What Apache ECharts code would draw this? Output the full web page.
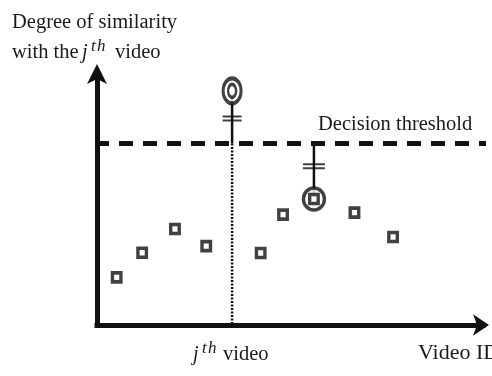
<!DOCTYPE html>
<html>
<head>
<meta charset="utf-8">
<script src="https://cdn.jsdelivr.net/npm/echarts@6/dist/echarts.min.js"></script>
<style>
  html, body { margin: 0; padding: 0; background: #fff; }
  #chart { width: 492px; height: 376px; }
</style>
</head>
<body>
<div id="chart"></div>
<script>
// video IDs (abstract 0-100 scale) and their similarity to the j-th video
const videoIds = [5.1, 11.7, 20.2, 28.3, 42.4, 48.2, 56.2, 66.7, 76.7];
const similarity = [18.9, 28.7, 38.1, 31.3, 28.6, 43.8, 50.0, 44.6, 34.9];

const jVideoId = 35;
const jSelfSimilarity = 92.9;
const threshold = 72;
const bestMatchIndex = 6; // circled point below the threshold

const yTitleLines = ['Degree of similarity', 'with the'];
const thresholdLabel = 'Decision threshold';
const xTitle = 'Video ID';

const ink = '#111';
const textColor = '#1a1a1a';
const serif = '"Liberation Serif", "DejaVu Serif", serif';

const ellipsePath = 'path://M0,50A50,50,0,1,1,100,50A50,50,0,1,1,0,50Z';
const doubleBarPath = 'path://M0,0H20V2H0Z M0,4H20V6H0Z';

const bestX = videoIds[bestMatchIndex];
const bestY = similarity[bestMatchIndex];

const text = (x, y, str, size, italic) => ({
  type: 'text',
  x,
  y,
  silent: true,
  style: {
    text: str,
    font: `${italic ? 'italic ' : ''}${size}px ${serif}`,
    fill: textColor,
    align: 'left',
    verticalAlign: 'middle',
  },
});

// "j" with a superscript "th", letters spaced like the math italic
const jth = (x, y) => [
  text(x, y, 'j', 20, true),
  text(x + 9, y - 6, 't', 17, true),
  text(x + 15, y - 6, 'h', 17, true),
];

const option = {
  animation: false,
  backgroundColor: '#fff',
  grid: { left: 97, right: 9, top: 73, bottom: 51, containLabel: false },
  xAxis: {
    type: 'value',
    min: 0,
    max: 100,
    axisLine: {
      show: true,
      symbol: ['none', 'arrow'],
      symbolSize: [16, 16],
      symbolOffset: [0, 6],
      lineStyle: { color: ink, width: 5, cap: 'square' },
    },
    axisTick: { show: false },
    axisLabel: { show: false },
    splitLine: { show: false },
  },
  yAxis: {
    type: 'value',
    min: 0,
    max: 100,
    axisLine: {
      show: true,
      symbol: ['none', 'arrow'],
      symbolSize: [15, 20],
      symbolOffset: [0, 9],
      lineStyle: { color: ink, width: 5, cap: 'square' },
    },
    axisTick: { show: false },
    axisLabel: { show: false },
    splitLine: { show: false },
  },
  series: [
    {
      name: 'threshold',
      type: 'line',
      clip: false,
      symbol: 'none',
      data: [[0, threshold], [102, threshold]],
      lineStyle: { color: ink, width: 5, type: [14, 10], dashOffset: 2 },
      z: 2,
    },
    {
      name: 'j dotted',
      type: 'line',
      clip: false,
      symbol: 'none',
      data: [[jVideoId, threshold], [jVideoId, -1.5]],
      lineStyle: { color: ink, width: 2.5, type: [2, 1.5] },
      z: 1,
    },
    {
      name: 'j stem',
      type: 'line',
      symbol: 'none',
      data: [[jVideoId, jSelfSimilarity], [jVideoId, threshold]],
      lineStyle: { color: ink, width: 2.5 },
      z: 3,
    },
    {
      name: 'best stem',
      type: 'line',
      symbol: 'none',
      data: [[bestX, threshold], [bestX, bestY]],
      lineStyle: { color: ink, width: 2.5 },
      z: 3,
    },
    {
      name: 'gap marks',
      type: 'scatter',
      symbol: doubleBarPath,
      data: [
        { value: [jVideoId, 81.9], symbolSize: [19, 6] },
        { value: [bestX, 63.0], symbolSize: [22, 6] },
      ],
      itemStyle: { color: ink },
      z: 4,
    },
    {
      name: 'rings',
      type: 'scatter',
      symbol: ellipsePath,
      data: [
        { value: [jVideoId, jSelfSimilarity], symbolSize: [18, 25] },
        { value: [bestX, bestY], symbolSize: [21, 22] },
      ],
      itemStyle: { color: '#fff', borderColor: ink, borderWidth: 3.5 },
      z: 5,
    },
    {
      name: 'inner ring',
      type: 'scatter',
      symbol: ellipsePath,
      symbolSize: [8, 13],
      data: [[jVideoId, jSelfSimilarity]],
      itemStyle: { color: '#fff', borderColor: ink, borderWidth: 3 },
      z: 6,
    },
    {
      name: 'videos',
      type: 'scatter',
      symbol: 'rect',
      symbolSize: [8.5, 9],
      data: videoIds.map((x, i) => [x, similarity[i]]),
      itemStyle: { color: '#fff', borderColor: ink, borderWidth: 3.5 },
      z: 6,
    },
  ],
  graphic: [
    text(12, 22.3, yTitleLines[0], 20.5),
    text(12, 52.6, yTitleLines[1], 20.5),
    ...jth(82, 52.6),
    text(115, 52.6, 'video', 20.5),
    text(318, 125, thresholdLabel, 20.5),
    ...jth(193, 354.8),
    text(223, 354.8, 'video', 20.5),
    text(418, 353.6, xTitle, 22),
  ],
};

const chart = echarts.init(document.getElementById('chart'), null, { renderer: 'canvas' });
chart.setOption(option);
</script>
</body>
</html>
